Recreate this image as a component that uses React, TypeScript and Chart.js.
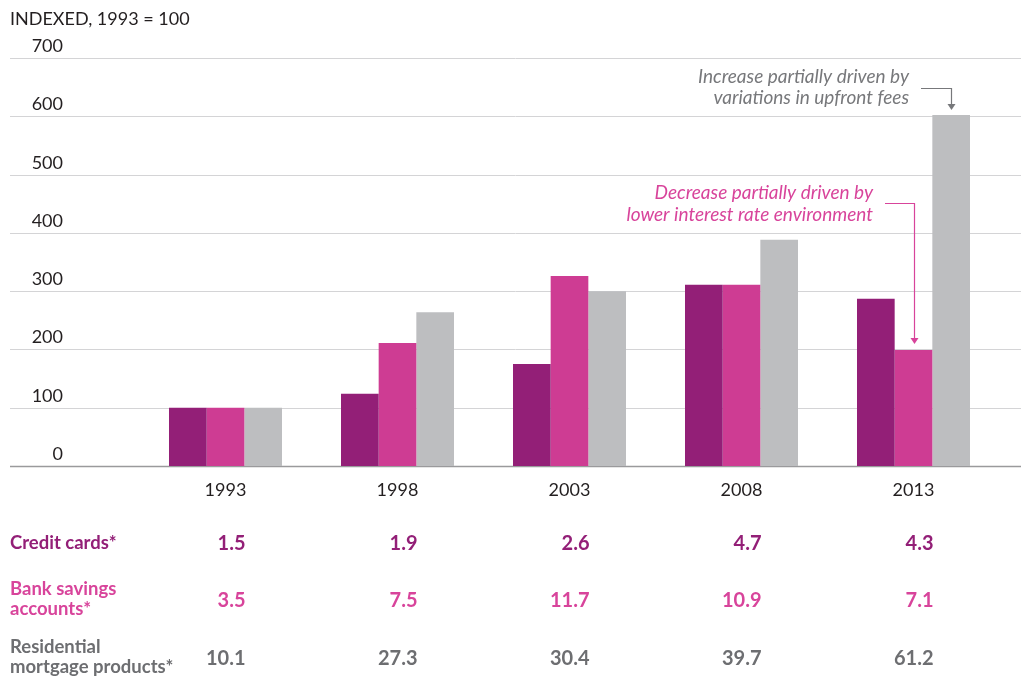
import React, { useEffect, useRef } from "react";
import { Chart, registerables } from "chart.js";

Chart.register(...registerables);

const categories = ["1993", "1998", "2003", "2008", "2013"];
const creditCards = [100, 124, 175, 311, 287];
const bankSavings = [100, 211, 326, 311, 199];
const mortgage = [100, 264, 300, 388, 602];
const yTicks = [0, 100, 200, 300, 400, 500, 600, 700];

const rowLabels = [["Credit cards*"], ["Bank savings", "accounts*"], ["Residential", "mortgage products*"]];
const creditValues = ["1.5", "1.9", "2.6", "4.7", "4.3"];
const savingsValues = ["3.5", "7.5", "11.7", "10.9", "7.1"];
const mortgageValues = ["10.1", "27.3", "30.4", "39.7", "61.2"];

const axisTitle = "INDEXED, 1993 = 100";
const noteIncrease = ["Increase partially driven by", "variations in upfront fees"];
const noteDecrease = ["Decrease partially driven by", "lower interest rate environment"];

const PURPLE = "#931F77";
const PINK = "#CE3C93";
const GREY = "#BDBEC0";
const PINK_TEXT = "#D8449B";
const GREY_TEXT = "#6D6E71";
const FONT = "Lato, 'Open Sans', sans-serif";

const decorPlugin = {
  id: "decor",
  beforeDatasetsDraw(chart: any) {
    const ctx = chart.ctx;
    const y = chart.scales.y;
    ctx.save();
    for (const t of yTicks) {
      const py = Math.round(y.getPixelForValue(t)) + 0.5;
      ctx.beginPath();
      ctx.strokeStyle = t === 0 ? "#9A9A9C" : "#D4D4D6";
      ctx.lineWidth = t === 0 ? 1.5 : 1;
      ctx.moveTo(10, py);
      ctx.lineTo(1021, py);
      ctx.stroke();
      ctx.fillStyle = "#231F20";
      ctx.font = `18px ${FONT}`;
      ctx.textAlign = "right";
      ctx.textBaseline = "alphabetic";
      ctx.fillText(String(t), 63, py - 7);
    }
    ctx.textAlign = "left";
    ctx.font = `18px ${FONT}`;
    ctx.fillStyle = "#231F20";
    ctx.fillText(axisTitle, 10, 25);
    ctx.restore();
  },
  afterDraw(chart: any) {
    const ctx = chart.ctx;
    const x = chart.scales.x;
    ctx.save();
    // category labels
    ctx.font = `18px ${FONT}`;
    ctx.fillStyle = "#231F20";
    ctx.textAlign = "center";
    ctx.textBaseline = "middle";
    categories.forEach((c, i) => ctx.fillText(c, x.getPixelForValue(i), 490));

    // table
    const rows = [
      { label: rowLabels[0], values: creditValues, color: PURPLE, y: 543 },
      { label: rowLabels[1], values: savingsValues, color: PINK_TEXT, y: 600 },
      { label: rowLabels[2], values: mortgageValues, color: GREY_TEXT, y: 658 },
    ];
    for (const r of rows) {
      ctx.fillStyle = r.color;
      ctx.font = `bold 18.5px ${FONT}`;
      ctx.textAlign = "left";
      if (r.label.length === 1) {
        ctx.fillText(r.label[0], 10, r.y);
      } else {
        ctx.fillText(r.label[0], 10, r.y - 11);
        ctx.fillText(r.label[1], 10, r.y + 9);
      }
      ctx.font = `bold 20px ${FONT}`;
      ctx.textAlign = "right";
      r.values.forEach((v, i) => ctx.fillText(v, x.getPixelForValue(i) + 20, r.y + 1));
    }

    // annotations
    const meta2 = chart.getDatasetMeta(2).data[4];
    const meta1 = chart.getDatasetMeta(1).data[4];
    ctx.font = `italic 19px ${FONT}`;
    ctx.textAlign = "right";
    ctx.textBaseline = "middle";
    ctx.fillStyle = "#77787B";
    ctx.fillText(noteIncrease[0], 909, 77);
    ctx.fillText(noteIncrease[1], 909, 98);
    const gx = Math.round(meta2.x) + 0.5;
    ctx.strokeStyle = "#77787B";
    ctx.lineWidth = 1.2;
    ctx.beginPath();
    ctx.moveTo(921, 88.5);
    ctx.lineTo(gx, 88.5);
    ctx.lineTo(gx, meta2.y - 10);
    ctx.stroke();
    ctx.fillStyle = "#77787B";
    ctx.beginPath();
    ctx.moveTo(gx - 4, meta2.y - 11);
    ctx.lineTo(gx + 4, meta2.y - 11);
    ctx.lineTo(gx, meta2.y - 5);
    ctx.closePath();
    ctx.fill();

    ctx.fillStyle = PINK_TEXT;
    ctx.fillText(noteDecrease[0], 873, 193);
    ctx.fillText(noteDecrease[1], 873, 215);
    const px = Math.round(meta1.x) + 0.5;
    ctx.strokeStyle = PINK_TEXT;
    ctx.beginPath();
    ctx.moveTo(885, 203.5);
    ctx.lineTo(px, 203.5);
    ctx.lineTo(px, meta1.y - 10);
    ctx.stroke();
    ctx.beginPath();
    ctx.moveTo(px - 4, meta1.y - 12);
    ctx.lineTo(px + 4, meta1.y - 12);
    ctx.lineTo(px, meta1.y - 6);
    ctx.closePath();
    ctx.fill();
    ctx.restore();
  },
};

export default function App() {
  const ref = useRef<HTMLCanvasElement | null>(null);
  useEffect(() => {
    document.body.style.margin = "0";
    if (!ref.current) return;
    const chart = new Chart(ref.current, {
      type: "bar",
      data: {
        labels: categories,
        datasets: [
          { label: "Credit cards", data: creditCards, backgroundColor: PURPLE },
          { label: "Bank savings accounts", data: bankSavings, backgroundColor: PINK },
          { label: "Residential mortgage products", data: mortgage, backgroundColor: GREY },
        ],
      },
      options: {
        animation: false,
        responsive: false,
        devicePixelRatio: 1,
        layout: { padding: { left: 139.5, right: 23.5, top: 58, bottom: 211 } },
        plugins: { legend: { display: false }, tooltip: { enabled: false } },
        datasets: { bar: { categoryPercentage: 0.657, barPercentage: 1 } },
        scales: {
          x: { display: false },
          y: { display: false, min: 0, max: 700 },
        },
      },
      plugins: [decorPlugin],
    });
    return () => chart.destroy();
  }, []);
  return (
    <div style={{ position: "absolute", left: 0, top: 0, width: 1023, height: 677 }}>
      <canvas ref={ref} width={1023} height={677} style={{ width: 1023, height: 677 }} />
    </div>
  );
}
